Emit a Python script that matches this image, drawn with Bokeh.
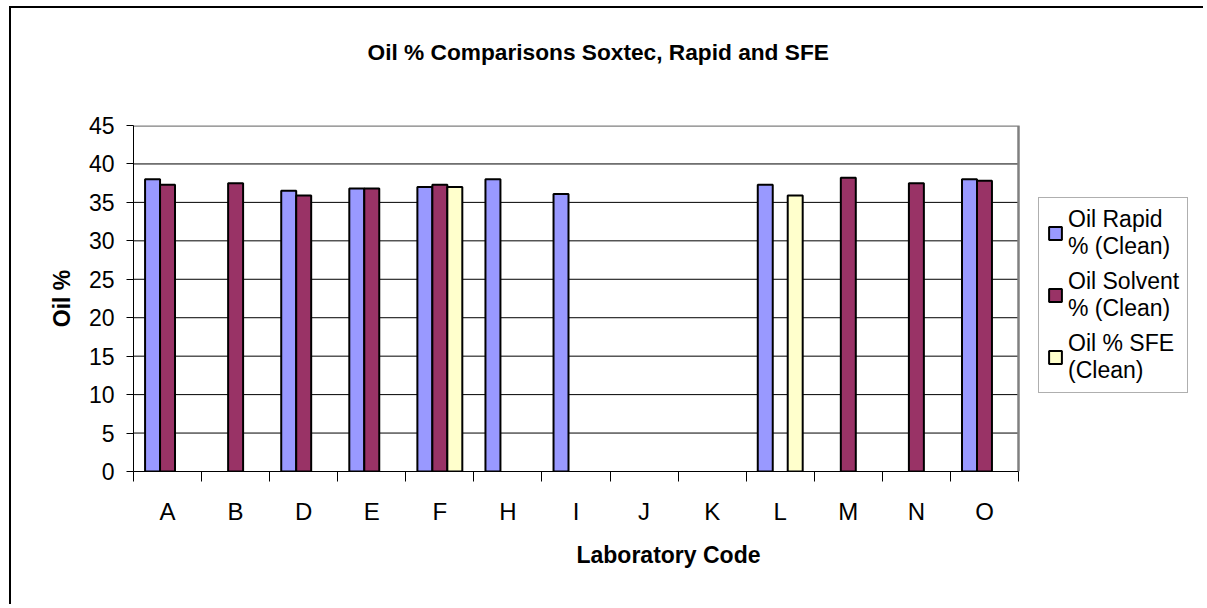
from bokeh.plotting import figure
from bokeh.models import Range1d, FixedTicker, Legend, LegendItem, ColumnDataSource
from bokeh.transform import dodge
from bokeh.embed import file_html
from bokeh.resources import INLINE

# ---- data -------------------------------------------------------------
labs = ["A", "B", "D", "E", "F", "H", "I", "J", "K", "L", "M", "N", "O"]
rapid = [38.0, None, 36.5, 36.8, 37.0, 38.0, 36.1, None, None, 37.3, None, None, 38.0]
solvent = [37.3, 37.5, 35.9, 36.8, 37.3, None, None, None, None, None, 38.2, 37.5, 37.8]
sfe = [None, None, None, None, 37.0, None, None, None, None, 35.9, None, None, None]
series_names = ["Oil Rapid\n% (Clean)", "Oil Solvent\n% (Clean)", "Oil % SFE\n(Clean)"]
colors = ["#9999FF", "#993366", "#FFFFCC"]
y_ticks = [0, 5, 10, 15, 20, 25, 30, 35, 40, 45]

FONT = "Liberation Sans"

# layout (pixels)
PLOT_W = 885          # width of the bar area
FRAME_W = 1070        # frame also holds the legend to the right of the bar area
n = len(labs)
y_max = y_ticks[-1]

p = figure(width=1194, height=598,
           x_range=Range1d(0, n * FRAME_W / PLOT_W), y_range=Range1d(0, y_max),
           output_backend="svg", toolbar_location=None,
           min_border_left=122, min_border_right=2,
           min_border_top=117, min_border_bottom=135)
p.styles = {"border-top": "2px solid #000000", "border-left": "2px solid #000000",
            "margin-left": "9px", "margin-top": "6px"}

# gridlines and plot-area border, limited to the bar area
grid_ys = y_ticks[1:-1]
p.segment(x0=[0] * len(grid_ys), x1=[n] * len(grid_ys), y0=grid_ys, y1=grid_ys,
          line_color="black", line_width=1)
p.line(x=[0, n, n], y=[y_max, y_max, 0], line_color="#808080", line_width=2.5)

centers = [i + 0.5 for i in range(n)]
offsets = [-0.22, 0.0, 0.22]
renderers = []
for vals, col, off in zip([rapid, solvent, sfe], colors, offsets):
    xs = [c for c, v in zip(centers, vals) if v is not None]
    ys = [v for v in vals if v is not None]
    src = ColumnDataSource(dict(x=xs, top=ys))
    r = p.vbar(x=dodge("x", off), top="top", bottom=0, width=0.22, source=src,
               fill_color=col, line_color="black", line_width=2)
    renderers.append(r)

# x axis: labels at centres, tick marks at category boundaries
p.xaxis.bounds = (0, n)
p.xaxis.ticker = FixedTicker(ticks=centers, minor_ticks=list(range(n + 1)))
p.xaxis.major_label_overrides = {c: l for c, l in zip(centers, labs)}
p.xaxis.major_tick_out = 0
p.xaxis.major_tick_in = 0
p.xaxis.minor_tick_out = 10
p.xaxis.minor_tick_in = 0
p.xaxis.minor_tick_line_color = "black"
p.xaxis.major_label_standoff = 16
p.xaxis.major_label_text_font = FONT
p.xaxis.major_label_text_font_size = "24px"
p.xaxis.major_label_text_color = "black"
p.xaxis.axis_line_color = "black"
p.xaxis.axis_label = "Laboratory Code"
p.xaxis.axis_label_text_font = FONT
p.xaxis.axis_label_text_font_style = "bold"
p.xaxis.axis_label_text_font_size = "23px"
p.xaxis.axis_label_text_color = "black"
p.xaxis.axis_label_standoff = 14

# y axis
p.yaxis.ticker = FixedTicker(ticks=y_ticks, minor_ticks=[])
p.yaxis.major_tick_out = 7
p.yaxis.major_tick_in = 0
p.yaxis.major_tick_line_color = "black"
p.yaxis.major_label_standoff = 12
p.yaxis.major_label_text_font = FONT
p.yaxis.major_label_text_font_size = "23px"
p.yaxis.major_label_text_color = "black"
p.yaxis.axis_line_color = "black"
p.yaxis.axis_label = "Oil %"
p.yaxis.axis_label_text_font = FONT
p.yaxis.axis_label_text_font_style = "bold"
p.yaxis.axis_label_text_font_size = "23px"
p.yaxis.axis_label_text_color = "black"
p.yaxis.axis_label_standoff = 11

p.xgrid.visible = False
p.ygrid.visible = False
p.outline_line_color = None

# title
p.title.text = "Oil % Comparisons Soxtec, Rapid and SFE"
p.title.text_font = FONT
p.title.text_font_style = "bold"
p.title.text_font_size = "22.7px"
p.title.text_color = "black"
p.title.align = "left"
p.title.offset = 234
p.title.standoff = 55
p.title.padding = dict(top=0, right=0, bottom=33, left=0)

legend = Legend(items=[LegendItem(label=nm, renderers=[r]) for nm, r in zip(series_names, renderers)],
                location=(905, 78))
legend.label_text_font = FONT
legend.label_text_font_size = "23px"
legend.label_text_color = "black"
legend.glyph_width = 16
legend.glyph_height = 16
legend.label_standoff = 5
legend.padding = 8
legend.spacing = 8
legend.margin = 0
legend.border_line_color = "#606060"
legend.border_line_width = 1
legend.background_fill_color = "white"
legend.background_fill_alpha = 1
p.add_layout(legend)

open("out.html", "w").write(file_html(p, INLINE))
